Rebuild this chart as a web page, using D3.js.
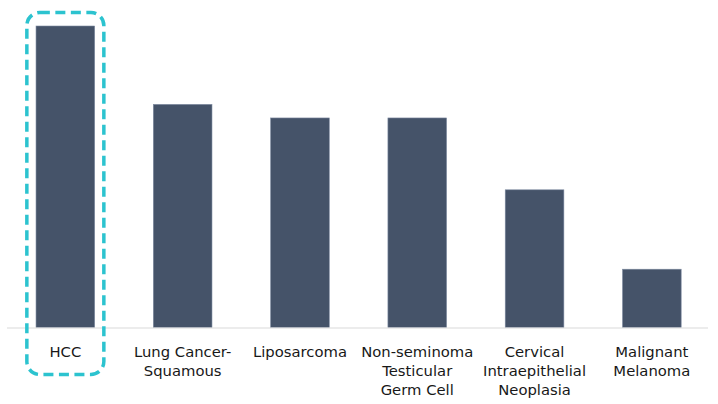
<!DOCTYPE html>
<html>
<head>
<meta charset="utf-8">
<script src="https://cdn.jsdelivr.net/npm/d3@7/dist/d3.min.js"></script>
<style>
  html, body { margin: 0; padding: 0; background: #ffffff; }
  svg { display: block; }
  .label { font-family: "DejaVu Sans", Verdana, sans-serif; font-size: 14.8px; fill: #181818; }
</style>
</head>
<body>
<svg id="chart" width="718" height="404"></svg>
<script>
// Tumour types (each label broken into its display lines)
const categories = ["HCC", "Lung Cancer-Squamous", "Liposarcoma", "Non-seminoma Testicular Germ Cell", "Cervical Intraepithelial Neoplasia", "Malignant Melanoma"];
const labelLines = [
  ["HCC"],
  ["Lung Cancer-", "Squamous"],
  ["Liposarcoma"],
  ["Non-seminoma", "Testicular", "Germ Cell"],
  ["Cervical", "Intraepithelial", "Neoplasia"],
  ["Malignant", "Melanoma"]
];
// Relative values per tumour type
const values = [30.0, 22.2, 20.85, 20.85, 13.7, 5.8];
// Category that gets the dashed highlight box
const highlighted = "HCC";

const svg = d3.select("#chart");
const baseY = 327.5;

const x = d3.scaleBand()
  .domain(categories)
  .range([6.7, 710.5])
  .paddingInner(0.5)
  .paddingOuter(0.25);

const y = d3.scaleLinear()
  .domain([0, 30])
  .range([baseY, 26]);

// Bars
svg.append("g").selectAll("rect")
  .data(categories)
  .join("rect")
  .attr("x", d => x(d))
  .attr("width", x.bandwidth())
  .attr("y", (d, i) => y(values[i]))
  .attr("height", (d, i) => baseY - y(values[i]))
  .attr("fill", "#455369")
  .attr("stroke", "#7d8aa0")
  .attr("stroke-width", 0.6);

// Baseline
svg.append("line")
  .attr("x1", 7).attr("x2", 708)
  .attr("y1", baseY + 0.5).attr("y2", baseY + 0.5)
  .attr("stroke", "#d9d9d9")
  .attr("stroke-width", 1);

// Category labels
const lineH = 19;
const labels = svg.append("g").selectAll("text")
  .data(categories)
  .join("text")
  .attr("class", "label")
  .attr("text-anchor", "middle")
  .attr("x", d => x(d) + x.bandwidth() / 2)
  .attr("y", 357);
labels.each(function(d, i) {
  const t = d3.select(this);
  labelLines[i].forEach((ln, j) => {
    t.append("tspan")
      .attr("x", x(d) + x.bandwidth() / 2)
      .attr("dy", j === 0 ? 0 : lineH)
      .text(ln);
  });
});

// Dashed highlight box around the chosen category
const hx = x(highlighted) + x.bandwidth() / 2;
svg.append("rect")
  .attr("x", hx - 38.5)
  .attr("y", 12.5)
  .attr("width", 77)
  .attr("height", 362)
  .attr("rx", 13)
  .attr("ry", 13)
  .attr("fill", "none")
  .attr("stroke", "#2cc3cf")
  .attr("stroke-width", 3.5)
  .attr("stroke-dasharray", "10 5.5");
</script>
</body>
</html>
